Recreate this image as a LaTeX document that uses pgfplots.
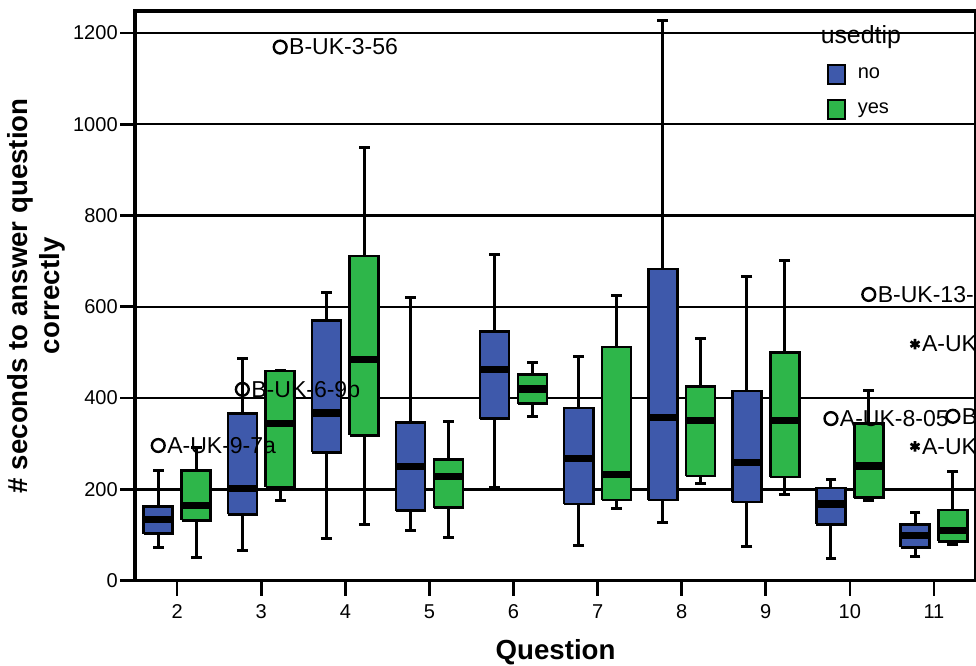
\documentclass[border=0pt]{standalone}
\usepackage{fontspec}
\setmainfont{Liberation Sans}
\usepackage{pgfplots}
\pgfplotsset{compat=1.18}
\definecolor{spssblue}{RGB}{62,89,171}
\definecolor{spssgreen}{RGB}{46,182,74}
\begin{document}
\begin{tikzpicture}
\begin{axis}[
  width=420pt, height=284.5pt, scale only axis,
  xmin=1.5, xmax=11.5, ymin=0, ymax=1248,
  xtick={2,3,4,5,6,7,8,9,10,11},
  ytick={0,200,400,600,800,1000,1200},
  xtick pos=bottom, ytick pos=left,
  tick align=outside, major tick length=7.5pt,
  tick style={black, line width=1.3pt},
  axis line style={line width=1.7pt},
  ymajorgrids, major grid style={black, line width=1.2pt},
  /pgf/number format/assume math mode=true,
  /pgf/number format/1000 sep={},
  tick label style={font=\fontsize{10}{12}\selectfont},
  xticklabel style={yshift=-1pt},
  yticklabel style={xshift=2.3pt},
  xlabel={Question},
  xlabel style={font=\fontsize{13.8}{16}\selectfont\bfseries, at={(axis description cs:0.5,-0.1265)}, anchor=center},
  ylabel={\# seconds to answer question\\correctly},
  ylabel style={font=\fontsize{13.8}{16}\selectfont\bfseries, align=center, at={(axis description cs:-0.075,0.5)}, anchor=south},
  unbounded coords=jump,
  legend style={draw=none, fill=none, at={(axis description cs:0.8226,0.909)}, anchor=north west, inner sep=0pt, row sep=6.8pt, font=\fontsize{10}{12}\selectfont},
  legend cell align=left,
]
% whiskers (lower whisker to upper whisker, caps as marks)
\addplot[forget plot, black, line width=1.5pt, mark=-, mark size=2.7pt, mark options={line width=1.5pt}] coordinates {
 (1.775,72)(1.775,241) (nan,nan) (2.775,66)(2.775,487) (nan,nan) (3.775,92)(3.775,632) (nan,nan)
 (4.775,109)(4.775,621) (nan,nan) (5.775,203)(5.775,715) (nan,nan) (6.775,76)(6.775,491) (nan,nan)
 (7.775,128)(7.775,1227) (nan,nan) (8.775,74)(8.775,667) (nan,nan) (9.775,48)(9.775,221) (nan,nan)
 (10.775,53)(10.775,149)};
\addplot[forget plot, black, line width=1.5pt, mark=-, mark size=2.7pt, mark options={line width=1.5pt}] coordinates {
 (2.225,50)(2.225,292) (nan,nan) (3.225,175)(3.225,461) (nan,nan) (4.225,122)(4.225,948) (nan,nan)
 (5.225,94)(5.225,349) (nan,nan) (6.225,360)(6.225,478) (nan,nan) (7.225,158)(7.225,624) (nan,nan)
 (8.225,213)(8.225,531) (nan,nan) (9.225,189)(9.225,702) (nan,nan) (10.225,175)(10.225,416) (nan,nan)
 (11.225,79)(11.225,238)};
% boxes: usedtip = no (lower to upper quartile)
\addplot[forget plot, draw=black, fill=spssblue, line width=1.3pt, mark=none] coordinates {
 (1.6025,103)(1.9475,103)(1.9475,163)(1.6025,163)(1.6025,103) (nan,nan)
 (2.6025,145)(2.9475,145)(2.9475,366)(2.6025,366)(2.6025,145) (nan,nan)
 (3.6025,281)(3.9475,281)(3.9475,570)(3.6025,570)(3.6025,281) (nan,nan)
 (4.6025,153)(4.9475,153)(4.9475,346)(4.6025,346)(4.6025,153) (nan,nan)
 (5.6025,355)(5.9475,355)(5.9475,546)(5.6025,546)(5.6025,355) (nan,nan)
 (6.6025,168)(6.9475,168)(6.9475,378)(6.6025,378)(6.6025,168) (nan,nan)
 (7.6025,177)(7.9475,177)(7.9475,683)(7.6025,683)(7.6025,177) (nan,nan)
 (8.6025,172)(8.9475,172)(8.9475,415)(8.6025,415)(8.6025,172) (nan,nan)
 (9.6025,123)(9.9475,123)(9.9475,203)(9.6025,203)(9.6025,123) (nan,nan)
 (10.6025,73)(10.9475,73)(10.9475,123)(10.6025,123)(10.6025,73)};
% boxes: usedtip = yes
\addplot[forget plot, draw=black, fill=spssgreen, line width=1.3pt, mark=none] coordinates {
 (2.0525,132)(2.3975,132)(2.3975,241)(2.0525,241)(2.0525,132) (nan,nan)
 (3.0525,205)(3.3975,205)(3.3975,459)(3.0525,459)(3.0525,205) (nan,nan)
 (4.0525,318)(4.3975,318)(4.3975,711)(4.0525,711)(4.0525,318) (nan,nan)
 (5.0525,160)(5.3975,160)(5.3975,265)(5.0525,265)(5.0525,160) (nan,nan)
 (6.0525,388)(6.3975,388)(6.3975,452)(6.0525,452)(6.0525,388) (nan,nan)
 (7.0525,177)(7.3975,177)(7.3975,512)(7.0525,512)(7.0525,177) (nan,nan)
 (8.0525,229)(8.3975,229)(8.3975,425)(8.0525,425)(8.0525,229) (nan,nan)
 (9.0525,227)(9.3975,227)(9.3975,500)(9.0525,500)(9.0525,227) (nan,nan)
 (10.0525,182)(10.3975,182)(10.3975,344)(10.0525,344)(10.0525,182) (nan,nan)
 (11.0525,86)(11.3975,86)(11.3975,155)(11.0525,155)(11.0525,86)};
% medians
\addplot[forget plot, black, line width=3.6pt, mark=none] coordinates {
 (1.6025,134)(1.9475,134) (nan,nan) (2.6025,202)(2.9475,202) (nan,nan) (3.6025,367)(3.9475,367) (nan,nan)
 (4.6025,250)(4.9475,250) (nan,nan) (5.6025,462)(5.9475,462) (nan,nan) (6.6025,268)(6.9475,268) (nan,nan)
 (7.6025,358)(7.9475,358) (nan,nan) (8.6025,258)(8.9475,258) (nan,nan) (9.6025,168)(9.9475,168) (nan,nan)
 (10.6025,99)(10.9475,99) (nan,nan)
 (2.0525,164)(2.3975,164) (nan,nan) (3.0525,344)(3.3975,344) (nan,nan) (4.0525,485)(4.3975,485) (nan,nan)
 (5.0525,228)(5.3975,228) (nan,nan) (6.0525,420)(6.3975,420) (nan,nan) (7.0525,233)(7.3975,233) (nan,nan)
 (8.0525,351)(8.3975,351) (nan,nan) (9.0525,350)(9.3975,350) (nan,nan) (10.0525,251)(10.3975,251) (nan,nan)
 (11.0525,110)(11.3975,110)};
% outliers (marks)
\addplot[forget plot, only marks, mark=o, mark size=3.2pt, mark options={line width=1.2pt, black}]
  coordinates {(1.775,296) (2.775,419) (3.225,1169) (9.775,355) (10.225,627) (11.225,360)};
\addplot[forget plot, only marks, mark=asterisk, mark size=2.6pt, mark options={line width=1.3pt, black}]
  coordinates {(10.775,518) (10.775,294)};
% outlier labels
\node[anchor=west, inner sep=0pt, xshift=4.3pt, font=\fontsize{11.5}{13}\selectfont] at (axis cs:1.775,296) {A-UK-9-7a};
\node[anchor=west, inner sep=0pt, xshift=4.3pt, font=\fontsize{11.5}{13}\selectfont] at (axis cs:2.775,419) {B-UK-6-9b};
\node[anchor=west, inner sep=0pt, xshift=4.3pt, font=\fontsize{11.5}{13}\selectfont] at (axis cs:3.225,1169) {B-UK-3-56};
\node[anchor=west, inner sep=0pt, xshift=4.3pt, font=\fontsize{11.5}{13}\selectfont] at (axis cs:9.775,355) {A-UK-8-05};
\node[anchor=west, inner sep=0pt, xshift=4.3pt, font=\fontsize{11.5}{13}\selectfont] at (axis cs:10.225,627) {B-UK-13-};
\node[anchor=west, inner sep=0pt, xshift=4.3pt, font=\fontsize{11.5}{13}\selectfont] at (axis cs:11.225,360) {B};
\node[anchor=west, inner sep=0pt, xshift=3.3pt, font=\fontsize{11.5}{13}\selectfont] at (axis cs:10.775,518) {A-UK};
\node[anchor=west, inner sep=0pt, xshift=3.3pt, font=\fontsize{11.5}{13}\selectfont] at (axis cs:10.775,294) {A-UK};
% legend
\addlegendimage{legend image code/.code={\draw[fill=spssblue, draw=black, line width=1.1pt] (0pt,-4.75pt) rectangle (8.5pt,4.75pt); \path (12.5pt,0pt);}}
\addlegendentry{no}
\addlegendimage{legend image code/.code={\draw[fill=spssgreen, draw=black, line width=1.1pt] (0pt,-4.75pt) rectangle (8.5pt,4.75pt); \path (12.5pt,0pt);}}
\addlegendentry{yes}
\node[anchor=base, font=\fontsize{12.4}{14}\selectfont, inner sep=0pt] at (axis cs:10.13,1176) {usedtip};
\coordinate (ll) at (rel axis cs:0,0);
\coordinate (ur) at (rel axis cs:1,1);
\end{axis}
\pgfresetboundingbox
\path ([xshift=-67.5pt,yshift=-42.5pt]ll) rectangle ([yshift=5.5pt]ur);
\end{tikzpicture}
\end{document}
